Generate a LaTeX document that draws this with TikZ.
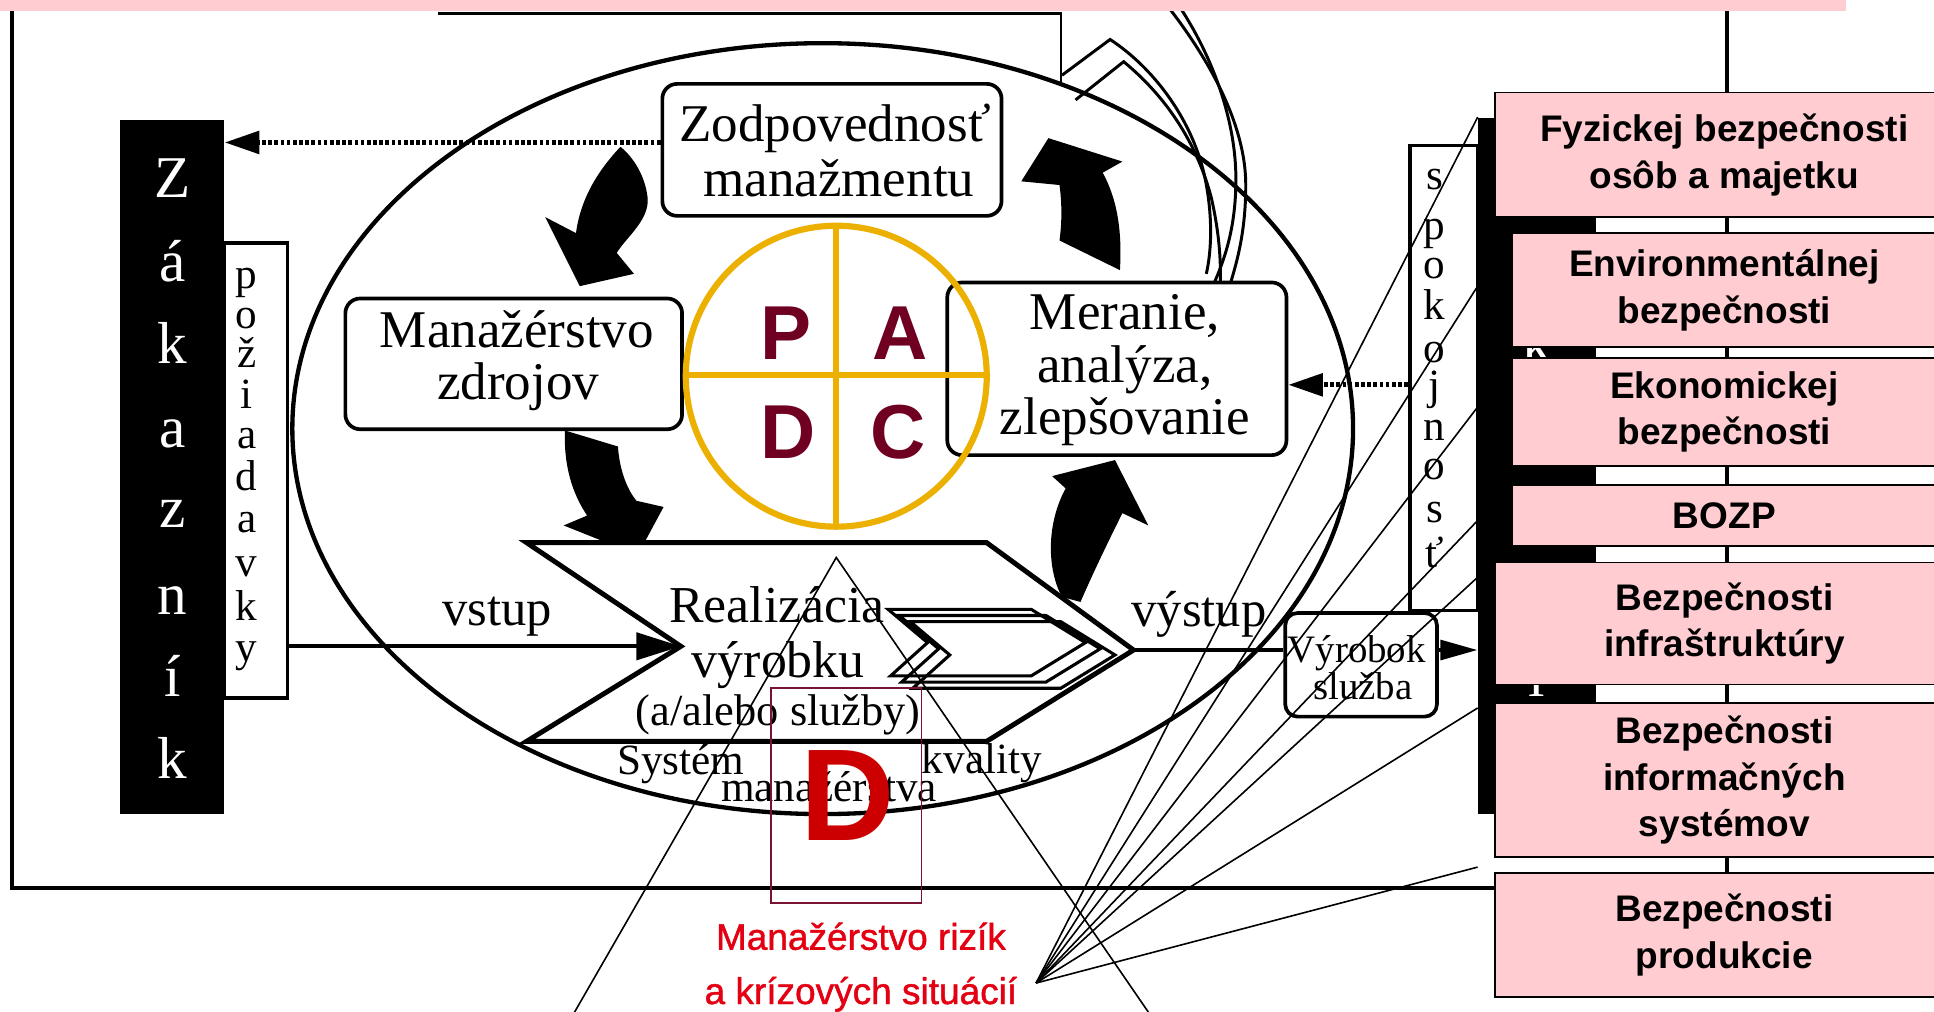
\documentclass[tikz,border=0pt]{standalone}
\usepackage{fontspec}
\setmainfont{Liberation Serif}
\newfontfamily\sansfam{Liberation Sans}
\newfontfamily\riskfam[FakeBold=1.2]{Liberation Sans}
\usetikzlibrary{arrows.meta}
\definecolor{bandpink}{RGB}{255,204,209}
\definecolor{pdcagold}{RGB}{235,176,0}
\definecolor{pdcainit}{RGB}{112,0,34}
\definecolor{riskred}{RGB}{228,0,18}
\definecolor{bigred}{RGB}{204,0,0}
\definecolor{boxmaroon}{RGB}{120,20,50}
\newcommand\fsize[1]{\fontsize{#1}{#1}\selectfont}
\begin{document}
\begin{tikzpicture}[x=1pt,y=-1pt,
  word/.style={anchor=base,inner sep=0pt,outer sep=0pt},
  rbox/.style={draw,line width=3pt,rounded corners=12pt,fill=white,inner sep=0pt},
  plainbox/.style={draw,line width=3pt,fill=white,inner sep=0pt},
  pinkbox/.style={draw,line width=1.5pt,fill=bandpink,inner sep=0pt,align=center,
     font=\sansfam\bfseries\fontsize{30}{38}\selectfont},
  blackcol/.style={fill=black,inner sep=0pt},
  fanline/.style={line width=1.3pt},
  dotline/.style={line width=4pt,dash pattern=on 3pt off 2pt},
  heavy/.style={line width=3pt},
  blockarrow/.style={fill=black},
  boxtext/.style={word,font=\fsize{43}},
  smalltext/.style={word,font=\fsize{35}},
  colletter/.style={word,font=\fsize{35}},
  outline/.style={line width=2.4pt,line join=miter},
]
\useasboundingbox (0,0) rectangle (1568,820);
\fill[white] (0,0) rectangle (1568,820);

% outer frame and the box edge at the top
\draw[heavy] (10,4) -- (10,720) -- (1400,720) -- (1400,4);
\draw[line width=2pt] (355,11) -- (860,11) -- (860,68);

% system ellipse
\draw[line width=3.5pt] (667,347.5) ellipse [x radius=430, y radius=312.5];

% improvement arrow outline leaving at the top
\draw[outline] (861,61) -- (900,32) .. controls (935,55) and (965,95) .. (976,140) .. controls (984,175) and (982,205) .. (978,222);
\draw[outline] (872,81) -- (911,50) .. controls (945,78) and (970,115) .. (982,160) .. controls (990,195) and (990,220) .. (989,238);
\draw[outline] (949,8) .. controls (985,55) and (1010,105) .. (1010,150) .. controls (1010,190) and (1002,215) .. (996,235);
\draw[outline] (958,8) .. controls (985,50) and (1002,100) .. (1002,145) .. controls (1002,180) and (995,205) .. (985,228);

% customer column (left)
\node[blackcol,minimum width=85pt,minimum height=563pt] (zak) at (139.5,378.5) {};
\foreach \ch/\yb [count=\i] in {Z/160,á/228,k/295,a/363,z/428,n/498,í/565,k/631}
  \node[word,text=white,font=\fsize{48}] (zl\i) at (140,\yb) {\ch};
\node[plainbox,minimum width=51pt,minimum height=369pt] (poz) at (207.5,381.5) {};
\foreach \ch/\yb [count=\i] in {p/234,o/266,ž/298,i/331,a/364,d/398,a/432,v/467,k/503,y/536}
  \node[colletter] (pl\i) at (200,\yb) {\ch};

% process boxes
\node[rbox,minimum width=275pt,minimum height=107pt] (zod) at (674.5,121.5) {};
\node[boxtext] (zodA) at (677,115) {Zodpovednosť};
\node[boxtext] (zodB) at (680,159.5) {manažmentu};
\node[rbox,minimum width=273pt,minimum height=106pt] (man) at (416.5,295) {};
\node[boxtext] (manA) at (419,282) {Manažérstvo};
\node[boxtext] (manB) at (420,324) {zdrojov};
\node[rbox,minimum width=275pt,minimum height=140pt] (mer) at (905.5,299) {};
\node[boxtext] (merA) at (912,267.5) {Meranie,};
\node[boxtext] (merB) at (912,310.5) {analýza,};
\node[boxtext] (merC) at (912,352.5) {zlepšovanie};

% responsibility -> customer
\coordinate (zodout) at ([yshift=6pt]zod.west);
\draw[dotline,-{Triangle[length=28pt,width=18pt]}] (zodout) -- (zodout -| zak.east);

% curved block arrows of the cycle
\fill[blockarrow] (503,119) .. controls (488,135) and (471,158) .. (467,189) -- (442,176) -- (470,232) -- (514,222) -- (500,205) .. controls (508,192) and (527,178) .. (525,160) .. controls (523,142) and (513,127) .. (503,119) -- cycle;
\fill[blockarrow] (458,349) -- (501,362) .. controls (502,378) and (507,395) .. (516,406) -- (538,411) -- (517,450) -- (457,426) -- (476,418) .. controls (464,400) and (457,378) .. (458,349) -- cycle;
\fill[blockarrow] (904,373) -- (931,426) -- (910,416) .. controls (898,440) and (886,465) .. (876,488) -- (861,484) .. controls (849,462) and (848,425) .. (864,396) -- (853,386) -- cycle;
\fill[blockarrow] (850,112) -- (910,131) -- (894,140) .. controls (905,160) and (910,185) .. (908,219) -- (859,195) .. controls (861,180) and (861,165) .. (859,150) -- (828,147) -- cycle;

% product realization chevron
\coordinate (chnotch) at (552,524);
\coordinate (chtip) at (919,527);
\draw[line width=4pt,fill=white,line join=miter] (427,440) -- (800,440) -- (chtip) -- (800,601) -- (427,601) -- (chnotch) -- cycle;
\foreach \k in {0,1,2}
  \draw[line width=2.5pt,line join=miter] (720+9*\k,494+5*\k) -- (836+12*\k,494+5*\k) -- (880+12*\k,521+5*\k) -- (836+12*\k,548+5*\k) -- (722+9*\k,548+5*\k) -- (752+9*\k,521+5*\k) -- cycle;
\node[word,font=\fsize{42}] (realA) at (630,505) {Realizácia};
\node[word,font=\fsize{42}] (realB) at (631,549) {výrobku};
\node[word,font=\fsize{36}] (realC) at (631,588) {(a/alebo služby)};

% input and output
\draw[heavy,-{Triangle[length=36pt,width=22pt]}] (poz.east |- chnotch) -- (chnotch);
\node[word,font=\fsize{41}] (vstup) at (403,507) {vstup};
\node[rbox,rounded corners=10pt,minimum width=123pt,minimum height=84pt] (vyr) at (1103.5,539) {};
\node[word,font=\fsize{31.5}] (vyrA) at (1100,537) {Výrobok};
\node[word,font=\fsize{31.5}] (vyrB) at (1105,567.5) {služba};
\draw[heavy] (chtip) -- (vyr.west |- chtip);
\node[word,font=\fsize{41}] (vystup) at (972,508) {výstup};

% customer column (right)
\node[blackcol,minimum width=96pt,minimum height=564pt] (rcol) at (1246,378) {};
\foreach \ch/\yb [count=\i] in {Z/160,á/228,k/295,a/363,z/428,n/498,í/565,k/631}
  \node[word,text=white,font=\fsize{48}] (zr\i) at (1246,\yb) {\ch};
\draw[heavy,-{Triangle[length=30pt,width=16pt]}] (vyr.east |- chtip) -- (rcol.west |- chtip);

% satisfaction box
\node[plainbox,minimum width=55pt,minimum height=377pt] (spok) at (1170.5,306.5) {};
\foreach \ch/\yb [count=\i] in {s/154,p/194,o/226,k/259,o/294,j/324,n/357,o/389,s/424,ť/460}
  \node[colletter] (sl\i) at (1163,\yb) {\ch};
\coordinate (spokout) at ([yshift=-5.5pt]spok.west);
\draw[dotline,-{Triangle[length=28pt,width=18pt]}] (spokout) -- (spokout -| mer.east);

% safety areas
\node[pinkbox,minimum width=372pt,minimum height=101pt] (fyz) at (1398,125.5) {Fyzickej bezpečnosti\\osôb a majetku};
\node[pinkbox,minimum width=344pt,minimum height=92pt] (env) at (1398,235) {Environmentálnej\\bezpečnosti};
\node[pinkbox,minimum width=344pt,minimum height=88pt] (eko) at (1398,334) {Ekonomickej\\bezpečnosti};
\node[pinkbox,minimum width=344pt,minimum height=50pt] (bozp) at (1398,418) {BOZP};
\node[pinkbox,minimum width=372pt,minimum height=99pt] (infra) at (1398,505.5) {Bezpečnosti\\infraštruktúry};
\node[pinkbox,minimum width=372pt,minimum height=125pt] (infsys) at (1398,632.5) {Bezpečnosti\\informačných\\systémov};
\node[pinkbox,minimum width=372pt,minimum height=100pt] (prod) at (1398,758) {Bezpečnosti\\produkcie};

% PDCA wheel
\draw[pdcagold,line width=5pt] (678,305) ellipse [x radius=122, y radius=122];
\draw[pdcagold,line width=5pt] (678,183) -- (678,427) (556,304) -- (800,304);
\node[font=\sansfam\bfseries\fsize{62},text=pdcainit,inner sep=0pt] (pP) at (637,270) {P};
\node[font=\sansfam\bfseries\fsize{62},text=pdcainit,inner sep=0pt] (pA) at (730,270) {A};
\node[font=\sansfam\bfseries\fsize{62},text=pdcainit,inner sep=0pt] (pD) at (639,350) {D};
\node[font=\sansfam\bfseries\fsize{62},text=pdcainit,inner sep=0pt] (pC) at (728,350) {C};

% quality management system caption
\node[smalltext] (sysA) at (552,628) {Systém};
\node[smalltext] (sysB) at (672,650) {manažérstva};
\node[smalltext] (sysC) at (796,627) {kvality};

% risk and crisis management
\node[draw=boxmaroon,line width=1.3pt,minimum width=122pt,minimum height=174pt,inner sep=0pt] (dbox) at (686,645) {};
\node[font=\sansfam\bfseries\fsize{106},text=bigred,inner sep=0pt] (bigD) at (687.5,645) {D};

\coordinate (triapex) at (678,452);
\coordinate (trileft) at (465,822);
\coordinate (triright) at (932,822);
\draw[fanline] (trileft) -- (triapex) -- (triright);

\coordinate (fan) at (840,797);
\foreach \yy [count=\i] in {95,232,330,422,468,574,703}
  \coordinate (fe\i) at (1198,\yy);
\foreach \i in {1,...,7}
  \draw[fanline] (fan) -- (fe\i);

\node[word,font=\riskfam\fsize{30},text=riskred] (riskA) at (698,770) {Manažérstvo rizík};
\node[word,font=\riskfam\fsize{30},text=riskred] (riskB) at (698,814) {a krízových situácií};

% band along the top
\fill[bandpink] (0,0) rectangle (1497,9);
\end{tikzpicture}
\end{document}
